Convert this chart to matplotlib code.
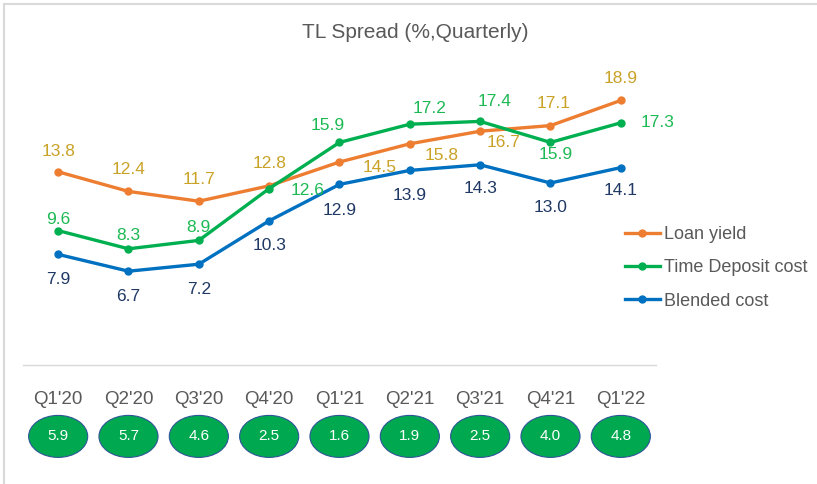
import matplotlib
matplotlib.use('Agg')
import matplotlib.pyplot as plt
from matplotlib.patches import Ellipse
from matplotlib.lines import Line2D

quarters = ["Q1'20", "Q2'20", "Q3'20", "Q4'20", "Q1'21", "Q2'21", "Q3'21", "Q4'21", "Q1'22"]
loan_yield = [13.8, 12.4, 11.7, 12.8, 14.5, 15.8, 16.7, 17.1, 18.9]
deposit_cost = [9.6, 8.3, 8.9, 12.6, 15.9, 17.2, 17.4, 15.9, 17.3]
blended_cost = [7.9, 6.7, 7.2, 10.3, 12.9, 13.9, 14.3, 13.0, 14.1]
spread = [5.9, 5.7, 4.6, 2.5, 1.6, 1.9, 2.5, 4.0, 4.8]

# label offsets in pixels (dx, dy), dy positive = up
loan_off = [(0, 20), (0, 22), (0, 22), (0, 22), (40, -5), (32, -12), (23, -11), (3, 22), (0, 22)]
dep_off = [(0, 11), (0, 13), (0, 13), (38, -2), (-12, 17), (20, 16), (14, 20), (5, -12), (37, 0)]
blend_off = [(0, -25), (0, -25), (0, -25), (0, -25), (0, -26), (0, -25), (0, -24), (0, -24), (0, -23)]

C_LOAN = '#ED7D31'
C_DEP = '#00B050'
C_BLEND = '#0070C0'
L_LOAN = '#C9A227'
L_DEP = '#1DB954'
L_BLEND = '#1F3864'
GREY = '#595959'

plt.rcParams['font.family'] = ['Liberation Sans', 'DejaVu Sans']

W, H = 817, 484
fig = plt.figure(figsize=(W / 100, H / 100), dpi=100)
# axes: x from 23px to 656px, y=0 at 365px, 14 px per unit
ax = fig.add_axes([23 / W, (H - 365) / H, 633 / W, 308 / H])
x = list(range(len(quarters)))
ax.set_xlim(-0.5, 8.5)
ax.set_ylim(0, 22)

series = [
    (loan_yield, C_LOAN, L_LOAN, loan_off, 'Loan yield'),
    (deposit_cost, C_DEP, L_DEP, dep_off, 'Time Deposit cost'),
    (blended_cost, C_BLEND, L_BLEND, blend_off, 'Blended cost'),
]
for vals, col, lcol, offs, name in series:
    ax.plot(x, vals, color=col, lw=2.4, marker='o', ms=5, label=name, solid_capstyle='round')
    for xi, v, (dx, dy) in zip(x, vals, offs):
        ax.annotate(f'{v:.1f}', (xi, v), xytext=(dx * 0.72, dy * 0.72), textcoords='offset points',
                    ha='center', va='center', fontsize=12.5, color=lcol)

for s in ['top', 'right', 'left']:
    ax.spines[s].set_visible(False)
ax.spines['bottom'].set_color('#D9D9D9')
ax.spines['bottom'].set_linewidth(1)
ax.set_yticks([])
ax.set_xticks(x)
ax.set_xticklabels(quarters, fontsize=13.5, color=GREY)
ax.tick_params(axis='x', length=0, pad=19)

# spread ellipses below the axis
for xi, s in zip(x, spread):
    e = Ellipse((xi, -5.1), 0.84, 3.0, facecolor='#00A94F', edgecolor='#2F5597', lw=0.8, clip_on=False)
    ax.add_patch(e)
    ax.text(xi, -5.05, f'{s:.1f}', ha='center', va='center', color='white', fontsize=11,
            clip_on=False)

fig.text(415 / W, 1 - 33 / H, 'TL Spread (%,Quarterly)', ha='center', va='center', fontsize=15,
         color=GREY)

handles = [Line2D([0], [0], color=c, lw=2.4, marker='o', ms=5) for _, c, _, _, _ in series]
fig.legend(handles, [n for *_, n in series], loc='upper left', bbox_to_anchor=(618 / W, 1 - 219 / H),
           frameon=False, fontsize=13, labelcolor=GREY, handlelength=1.9, handletextpad=0.25,
           labelspacing=0.9, borderaxespad=0)

# light frame on top and left edges
fig.add_artist(Line2D([4 / W, 1], [1 - 4 / H, 1 - 4 / H], color='#D9D9D9', lw=1.5, transform=fig.transFigure))
fig.add_artist(Line2D([4 / W, 4 / W], [0, 1 - 4 / H], color='#D9D9D9', lw=1.5, transform=fig.transFigure))

fig.savefig('out.png', dpi=100)
